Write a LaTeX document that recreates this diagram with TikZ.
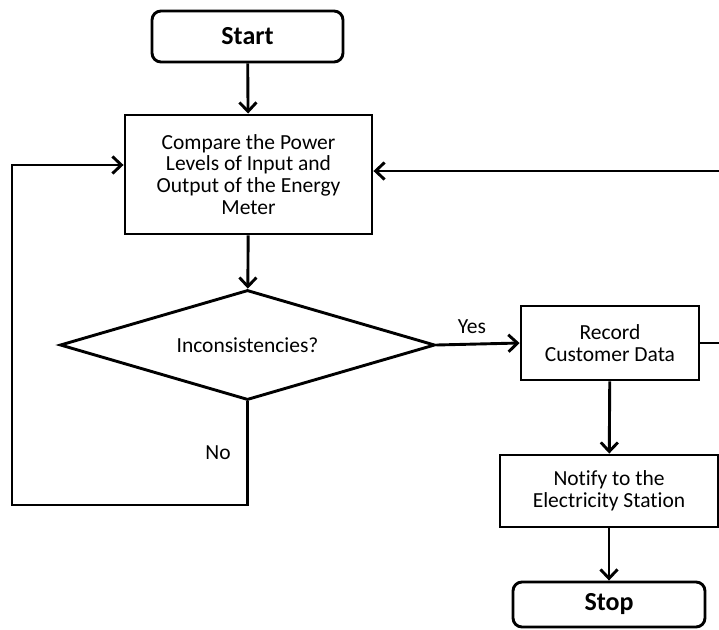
\documentclass[tikz,border=0pt]{standalone}
\usepackage{fontspec}
\setmainfont[Ligatures=NoCommon]{Carlito}
\usetikzlibrary{shapes.geometric,arrows.meta}

\begin{document}
\begin{tikzpicture}[x=1pt,y=-1pt,
    line width=2.9pt,
    arr/.style={-{Straight Barb[length=9pt,width=17pt,line width=2.9pt]}},
    txt/.style={font=\fontsize{21.5}{21.8}\selectfont, align=center},
    proc/.style={draw, rectangle, txt, inner sep=0pt},
    term/.style={draw, rectangle, rounded corners=9pt, inner sep=0pt, font=\fontsize{26}{28}\selectfont\bfseries},
    decide/.style={draw, diamond, aspect=3.4, inner sep=0pt, txt}]
    \useasboundingbox (0,0) rectangle (719,629);
    \clip (0,0) rectangle (719,629);
    % Boxes
    \node[term, minimum width=191pt, minimum height=51pt] (start) at (247.5,36.5) {Start};
    \node[proc, minimum width=247pt, minimum height=119pt] (compare) at (248.5,174.5)
        {Compare the Power\\Levels of Input and\\Output of the Energy\\Meter};
    \node[decide, minimum width=375pt, minimum height=110pt] (check) at (247.5,345) {Inconsistencies?};
    \node[proc, minimum width=178pt, minimum height=74pt] (record) at (610,343) {Record\\Customer Data};
    \node[proc, minimum width=218pt, minimum height=72pt] (notify) at (609,491) {Notify to the\\Electricity Station};
    \node[term, minimum width=192pt, minimum height=45pt] (stop) at (609,604.5) {Stop};
    % Labels
    \node[txt] (yes) at (472,327) {Yes};
    \node[txt] (no) at (218,453) {No};
    \coordinate (nocorner) at (12,505);
    % Connectors
    \draw[arr] (start) -- (compare);
    \draw[arr] (compare) -- (check);
    \draw[arr] (check.east) -- (record.west);
    \draw[arr] (record) -- (notify);
    \draw[arr] (notify) -- (stop);
    \draw[arr] (record.east) -- ++(45,0) |- ([yshift=3.5pt]compare.east); % back to the meter
    \draw[arr] (check.south) |- (nocorner) |- ([yshift=9.5pt]compare.west); % no
\end{tikzpicture}
\end{document}
